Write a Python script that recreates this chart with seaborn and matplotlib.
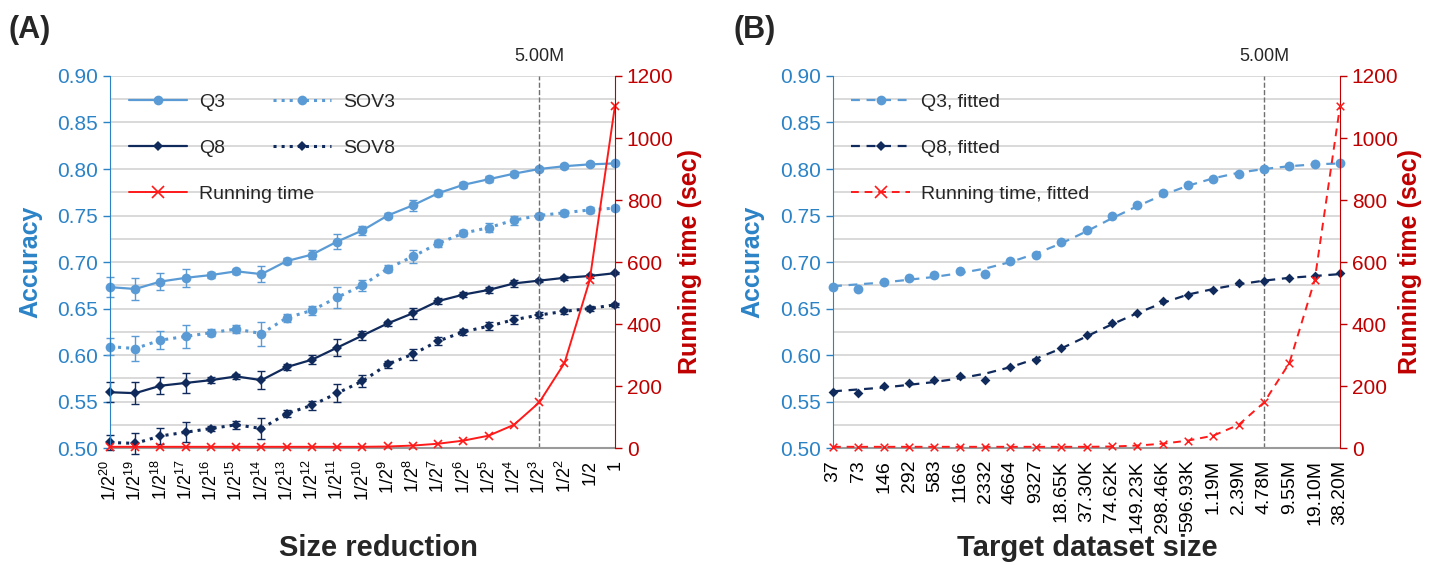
import matplotlib
matplotlib.use("Agg")
import matplotlib.pyplot as plt
from matplotlib.lines import Line2D
from matplotlib.ticker import MultipleLocator
import numpy as np
import seaborn as sns

# --- data ---
size_reduction = ["1/2$^{%d}$" % k for k in range(20, 1, -1)] + ["1/2", "1"]
dataset_size = ["37", "73", "146", "292", "583", "1166", "2332", "4664", "9327",
                "18.65K", "37.30K", "74.62K", "149.23K", "298.46K", "596.93K",
                "1.19M", "2.39M", "4.78M", "9.55M", "19.10M", "38.20M"]

q3 = [0.673, 0.671, 0.679, 0.683, 0.686, 0.690, 0.687, 0.701, 0.708, 0.722, 0.734,
      0.750, 0.761, 0.774, 0.783, 0.789, 0.795, 0.800, 0.803, 0.805, 0.806]
sov3 = [0.609, 0.607, 0.616, 0.620, 0.624, 0.628, 0.623, 0.640, 0.648, 0.662, 0.675,
        0.693, 0.706, 0.720, 0.731, 0.737, 0.745, 0.750, 0.753, 0.756, 0.758]
q8 = [0.560, 0.559, 0.567, 0.570, 0.573, 0.577, 0.573, 0.587, 0.595, 0.608, 0.621,
      0.634, 0.645, 0.658, 0.665, 0.670, 0.677, 0.680, 0.683, 0.685, 0.688]
sov8 = [0.506, 0.505, 0.513, 0.517, 0.521, 0.525, 0.521, 0.537, 0.546, 0.559, 0.572,
        0.590, 0.601, 0.615, 0.625, 0.631, 0.638, 0.643, 0.647, 0.650, 0.654]

err_q3 = [0.011, 0.012, 0.009, 0.010, 0.003, 0.003, 0.009, 0.003, 0.005, 0.008, 0.005,
          0.003, 0.006, 0.003, 0.003, 0.003, 0.003, 0.002, 0.002, 0.002, 0.001]
err_sov3 = [0.009, 0.013, 0.010, 0.012, 0.004, 0.004, 0.013, 0.004, 0.005, 0.011, 0.006,
            0.004, 0.007, 0.004, 0.003, 0.005, 0.005, 0.003, 0.003, 0.003, 0.002]
err_q8 = [0.011, 0.012, 0.009, 0.011, 0.003, 0.003, 0.010, 0.003, 0.005, 0.009, 0.005,
          0.003, 0.006, 0.003, 0.003, 0.003, 0.004, 0.002, 0.002, 0.002, 0.001]
err_sov8 = [0.008, 0.011, 0.009, 0.011, 0.003, 0.004, 0.011, 0.004, 0.005, 0.010, 0.006,
            0.004, 0.006, 0.004, 0.003, 0.004, 0.005, 0.003, 0.003, 0.003, 0.002]

run_time = [4, 4, 4, 4, 4, 4, 4, 4, 4, 4, 4, 5, 8, 14, 24, 40, 75, 147, 274, 542, 1104]

# fitted curves (panel B)
q3_fit = [0.674, 0.676, 0.678, 0.681, 0.684, 0.688, 0.693, 0.700, 0.709, 0.720, 0.733,
          0.747, 0.760, 0.772, 0.782, 0.790, 0.796, 0.800, 0.803, 0.805, 0.806]
q8_fit = [0.561, 0.563, 0.565, 0.568, 0.571, 0.575, 0.580, 0.587, 0.596, 0.607, 0.620,
          0.633, 0.645, 0.656, 0.665, 0.671, 0.676, 0.680, 0.683, 0.685, 0.687]
run_time_fit = [4, 4, 4, 4, 4, 4, 4, 4, 4, 4, 4, 5, 8, 14, 24, 40, 75, 147, 274, 542, 1104]

cutoff_idx = 17
cutoff_label = "5.00M"

# --- style ---
sns.set_style("white")
plt.rcParams["font.family"] = ["Liberation Sans", "DejaVu Sans"]
plt.rcParams["mathtext.fontset"] = "custom"
plt.rcParams["mathtext.rm"] = "Liberation Sans"
plt.rcParams["mathtext.it"] = "Liberation Sans"

C_Q3 = "#5b9bd5"
C_Q8 = "#102a5c"
C_RT = "#ff1a1a"
C_LEFT = "#2b83c6"
C_RIGHT = "#c00000"
C_GRID = "#d9d9d9"

pos = np.arange(len(q3))

fig = plt.figure(figsize=(14.47, 5.65), dpi=100)


def setup_axes(ax, ax2, labels, xfont):
    ax.set_xlim(0, len(labels) - 1)
    ax.set_ylim(0.5, 0.9)
    ax.set_yticks(np.arange(0.5, 0.901, 0.05))
    ax.yaxis.set_minor_locator(MultipleLocator(0.025))
    ax.grid(axis="y", which="both", color=C_GRID, linewidth=1.4)
    ax.grid(axis="x", visible=False)
    ax.set_axisbelow(True)
    ax.yaxis.set_major_formatter(matplotlib.ticker.FormatStrFormatter("%.2f"))
    ax.set_xticks(pos)
    ax.set_xticklabels(labels, rotation=90, fontsize=xfont)
    ax.tick_params(axis="y", which="major", colors=C_LEFT, labelsize=15, length=5, width=1)
    ax.tick_params(axis="y", which="minor", length=0)
    ax.tick_params(axis="x", colors="#808080", labelcolor="black", length=5, width=1)
    for s in ["top", "right"]:
        ax.spines[s].set_visible(False)
    ax.spines["left"].set_color(C_LEFT)
    ax.spines["bottom"].set_color("#9a9a9a")
    ax.spines["bottom"].set_linewidth(1.5)
    ax.set_xlabel("")
    ax.set_ylabel("")

    ax2.set_ylim(0, 1200)
    ax2.set_yticks(np.arange(0, 1201, 200))
    ax2.tick_params(axis="y", colors=C_RIGHT, labelsize=15, length=5, width=1)
    for s in ["top", "left", "bottom"]:
        ax2.spines[s].set_visible(False)
    ax2.spines["right"].set_color(C_RIGHT)
    ax2.set_ylabel("")
    ax2.grid(False)

    ax.axvline(cutoff_idx, color="#707070", linestyle="--", linewidth=1)
    ax.annotate(cutoff_label, xy=(cutoff_idx, 1.0), xycoords=("data", "axes fraction"),
                xytext=(0, 8), textcoords="offset points", ha="center", va="bottom",
                fontsize=13)


leg_kw = dict(frameon=False, fontsize=14, handlelength=3.0, labelspacing=1.45,
              handletextpad=0.6, borderaxespad=0.0)

# ---------------- Panel A ----------------
axA = fig.add_axes([0.076, 0.207, 0.349, 0.6585])
axA2 = axA.twinx()

for vals, errs, col, mk, ls in [(q3, err_q3, C_Q3, "o", "-"),
                                (sov3, err_sov3, C_Q3, "o", ":"),
                                (q8, err_q8, C_Q8, "D", "-"),
                                (sov8, err_sov8, C_Q8, "D", ":")]:
    axA.errorbar(pos, vals, yerr=errs, fmt="none", ecolor=col, elinewidth=1,
                 capsize=3, capthick=1, clip_on=False)
    sns.lineplot(x=pos, y=vals, ax=axA, color=col, marker=mk,
                 markersize=7 if mk == "o" else 5, markeredgewidth=0,
                 linewidth=1.6 if ls == "-" else 2.2, linestyle=ls,
                 legend=False, clip_on=False)

sns.lineplot(x=pos, y=run_time, ax=axA2, color=C_RT, marker="x", markersize=6,
             markeredgewidth=1.2, markeredgecolor=C_RT, linewidth=1.4,
             legend=False, clip_on=False)

setup_axes(axA, axA2, size_reduction, 13)

handlesA1 = [
    Line2D([], [], color=C_Q3, marker="o", markersize=7, markeredgewidth=0, lw=1.6),
    Line2D([], [], color=C_Q8, marker="D", markersize=5, markeredgewidth=0, lw=1.6),
    Line2D([], [], color=C_RT, marker="x", markersize=8, markeredgewidth=1.2, lw=1.4),
]
handlesA2 = [
    Line2D([], [], color=C_Q3, marker="o", markersize=7, markeredgewidth=0, lw=2.2, ls=":"),
    Line2D([], [], color=C_Q8, marker="D", markersize=5, markeredgewidth=0, lw=2.2, ls=":"),
]
legA1 = axA2.legend(handlesA1, ["Q3", "Q8", "Running time"], loc="upper left",
                    bbox_to_anchor=(0.022, 0.974), **leg_kw)
axA2.add_artist(legA1)
axA2.legend(handlesA2, ["SOV3", "SOV8"], loc="upper left",
            bbox_to_anchor=(0.307, 0.974), **leg_kw)

# ---------------- Panel B ----------------
axB = fig.add_axes([0.5757, 0.207, 0.3504, 0.6585])
axB2 = axB.twinx()

dash = (0, (4, 3))
sns.lineplot(x=pos, y=q3_fit, ax=axB, color=C_Q3, linewidth=1.6, linestyle=dash, legend=False)
sns.lineplot(x=pos, y=q8_fit, ax=axB, color=C_Q8, linewidth=1.6, linestyle=dash, legend=False)
sns.scatterplot(x=pos, y=q3, ax=axB, color=C_Q3, marker="o", s=50, linewidth=0,
                legend=False, clip_on=False, zorder=3)
sns.scatterplot(x=pos, y=q8, ax=axB, color=C_Q8, marker="D", s=25, linewidth=0,
                legend=False, clip_on=False, zorder=3)
sns.lineplot(x=pos, y=run_time_fit, ax=axB2, color=C_RT, linewidth=1.4, linestyle=dash,
             legend=False)
sns.scatterplot(x=pos, y=run_time, ax=axB2, color=C_RT, marker="x", s=30, linewidth=1.1,
                legend=False, clip_on=False, zorder=3)

setup_axes(axB, axB2, dataset_size, 14)

handlesB = [
    Line2D([], [], color=C_Q3, marker="o", markersize=7, markeredgewidth=0, lw=1.6, ls=(0, (4, 3))),
    Line2D([], [], color=C_Q8, marker="D", markersize=5, markeredgewidth=0, lw=1.6, ls=(0, (4, 3))),
    Line2D([], [], color=C_RT, marker="x", markersize=8, markeredgewidth=1.2, lw=1.4, ls=(0, (4, 3))),
]
axB2.legend(handlesB, ["Q3, fitted", "Q8, fitted", "Running time, fitted"],
            loc="upper left", bbox_to_anchor=(0.021, 0.974), **leg_kw)

# ---------------- labels ----------------
fig.text(8 / 1447, 1 - 30 / 565, "(A)", fontsize=22, fontweight="bold", va="center")
fig.text(733 / 1447, 1 - 30 / 565, "(B)", fontsize=22, fontweight="bold", va="center")

for x in (30, 752):
    fig.text(x / 1447, 1 - 262 / 565, "Accuracy", rotation=90, color=C_LEFT,
             fontsize=18, fontweight="bold", ha="center", va="center")
for x in (690, 1410):
    fig.text(x / 1447, 1 - 262 / 565, "Running time (sec)", rotation=90, color=C_RIGHT,
             fontsize=18, fontweight="bold", ha="center", va="center")

fig.text(378 / 1447, 1 - 548 / 565, "Size reduction", fontsize=21, fontweight="bold",
         ha="center", va="center")
fig.text(1087 / 1447, 1 - 548 / 565, "Target dataset size", fontsize=21, fontweight="bold",
         ha="center", va="center")

fig.savefig("out.png", dpi=100)
